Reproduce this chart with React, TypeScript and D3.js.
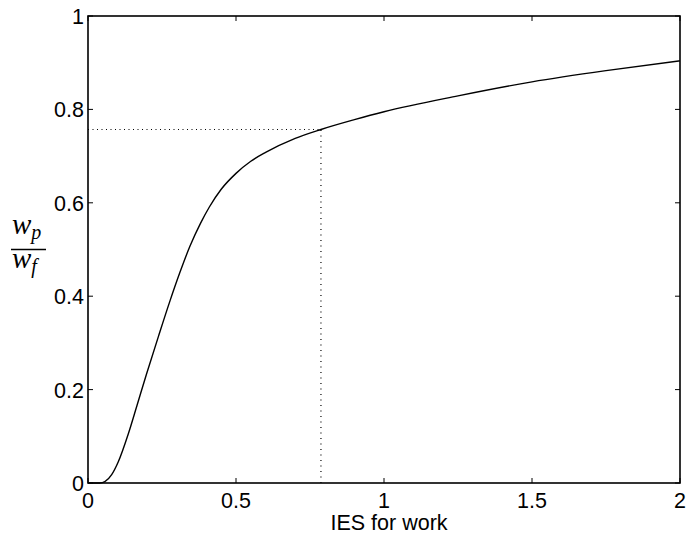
import { useEffect, useRef } from "react";
import * as d3 from "d3";

// values
const iesValues = [0, 0.04, 0.057, 0.08, 0.102, 0.136, 0.165, 0.198, 0.238, 0.277, 0.31, 0.345, 0.38, 0.41, 0.45, 0.5, 0.55, 0.6, 0.7, 0.787, 0.9, 1.0, 1.25, 1.5, 1.75, 2.0];
const wageRatio = [0, 0, 0.003, 0.018, 0.045, 0.105, 0.165, 0.234, 0.314, 0.39, 0.45, 0.508, 0.556, 0.591, 0.629, 0.663, 0.689, 0.708, 0.738, 0.757, 0.778, 0.795, 0.829, 0.859, 0.883, 0.904];
const xTicks = [0, 0.5, 1, 1.5, 2];
const yTicks = [0, 0.2, 0.4, 0.6, 0.8, 1];
const markerX = 0.787;
const markerY = 0.757;

const App = () => {
  const ref = useRef<SVGSVGElement>(null);

  useEffect(() => {
    const dims = { width: 686, height: 535, left: 88, right: 680, top: 16, bottom: 483 };
    const svg = d3.select(ref.current);
    svg.selectAll("*").remove();

    const xScale = d3.scaleLinear().domain([0, 2]).range([dims.left, dims.right]);
    const yScale = d3.scaleLinear().domain([0, 1]).range([dims.bottom, dims.top]);
    const font = "'Liberation Sans', Arial, Helvetica, sans-serif";

    // dotted guide lines
    svg
      .append("line")
      .attr("x1", xScale(0))
      .attr("x2", xScale(markerX))
      .attr("y1", yScale(markerY))
      .attr("y2", yScale(markerY))
      .attr("stroke", "#000")
      .attr("stroke-width", 1.2)
      .attr("stroke-dasharray", "1,3.5");
    svg
      .append("line")
      .attr("x1", xScale(markerX))
      .attr("x2", xScale(markerX))
      .attr("y1", yScale(0))
      .attr("y2", yScale(markerY))
      .attr("stroke", "#000")
      .attr("stroke-width", 1.2)
      .attr("stroke-dasharray", "1,4.5");

    // curve
    const line = d3
      .line<number>()
      .x((d, i) => xScale(iesValues[i]))
      .y((d) => yScale(d))
      .curve(d3.curveMonotoneX);
    svg
      .append("path")
      .attr("d", line(wageRatio))
      .attr("fill", "none")
      .attr("stroke", "#000")
      .attr("stroke-width", 1.4);

    // box
    svg
      .append("rect")
      .attr("x", dims.left)
      .attr("y", dims.top)
      .attr("width", dims.right - dims.left)
      .attr("height", dims.bottom - dims.top)
      .attr("fill", "none")
      .attr("stroke", "#000")
      .attr("stroke-width", 1.6);

    const tickLen = 5;
    // x ticks (bottom and top, inward)
    xTicks.forEach((t) => {
      svg.append("line").attr("x1", xScale(t)).attr("x2", xScale(t)).attr("y1", dims.bottom).attr("y2", dims.bottom - tickLen).attr("stroke", "#000");
      svg.append("line").attr("x1", xScale(t)).attr("x2", xScale(t)).attr("y1", dims.top).attr("y2", dims.top + tickLen).attr("stroke", "#000");
      svg
        .append("text")
        .attr("x", xScale(t))
        .attr("y", 508)
        .attr("text-anchor", "middle")
        .attr("font-family", font)
        .attr("font-size", 21.5)
        .text(String(t));
    });
    // y ticks (left and right, inward)
    yTicks.forEach((t) => {
      svg.append("line").attr("x1", dims.left).attr("x2", dims.left + tickLen).attr("y1", yScale(t)).attr("y2", yScale(t)).attr("stroke", "#000");
      svg.append("line").attr("x1", dims.right).attr("x2", dims.right - tickLen).attr("y1", yScale(t)).attr("y2", yScale(t)).attr("stroke", "#000");
      svg
        .append("text")
        .attr("x", 84)
        .attr("y", yScale(t) + 8)
        .attr("text-anchor", "end")
        .attr("font-family", font)
        .attr("font-size", 21.5)
        .text(String(t));
    });

    // x label
    svg
      .append("text")
      .attr("x", (dims.left + dims.right) / 2 + 5)
      .attr("y", 530)
      .attr("text-anchor", "middle")
      .attr("font-family", font)
      .attr("font-size", 21.5)
      .text("IES for work");

    // y label: w_p / w_f
    const serif = "'Liberation Serif', 'Times New Roman', serif";
    const num = svg
      .append("text")
      .attr("x", 12)
      .attr("y", 234)
      .attr("font-family", serif)
      .attr("font-style", "italic")
      .attr("font-size", 29);
    num.append("tspan").text("w");
    num.append("tspan").attr("font-size", 20).attr("dy", 5).text("p");
    svg
      .append("line")
      .attr("x1", 11)
      .attr("x2", 46)
      .attr("y1", 249.5)
      .attr("y2", 249.5)
      .attr("stroke", "#000")
      .attr("stroke-width", 1.3);
    const den = svg
      .append("text")
      .attr("x", 12)
      .attr("y", 268)
      .attr("font-family", serif)
      .attr("font-style", "italic")
      .attr("font-size", 29);
    den.append("tspan").text("w");
    den.append("tspan").attr("font-size", 20).attr("dy", 5).text("f");
  }, []);

  return (
    <svg
      ref={ref}
      width={686}
      height={535}
      style={{ position: "absolute", left: 0, top: 0, background: "#fff" }}
    />
  );
};

export default App;
